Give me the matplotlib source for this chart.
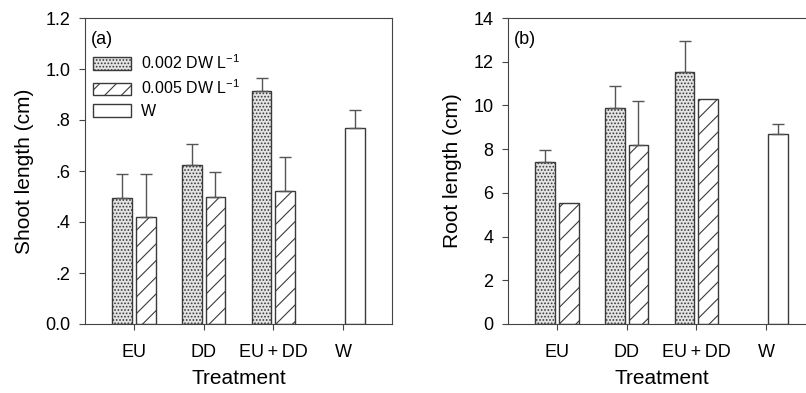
import numpy as np
import matplotlib.pyplot as plt

plt.rcParams['font.family'] = ['Liberation Sans', 'DejaVu Sans']
plt.rcParams['mathtext.default'] = 'regular'
plt.rcParams['hatch.linewidth'] = 0.8

treatments = ['EU', 'DD', 'EU\u2009+\u2009DD', 'W']

# shoot length (cm)
shoot_002 = [0.495, 0.625, 0.915]
shoot_002_err = [0.095, 0.08, 0.05]
shoot_005 = [0.42, 0.50, 0.52]
shoot_005_err = [0.17, 0.095, 0.135]
shoot_w = 0.77
shoot_w_err = 0.068

# root length (cm)
root_002 = [7.42, 9.87, 11.51]
root_002_err = [0.54, 1.03, 1.44]
root_005 = [5.55, 8.2, 10.29]
root_005_err = [0.0, 2.01, 0.0]
root_w = 8.68
root_w_err = 0.48

edge = '#3a3a3a'
W_PX, H_PX = 806, 393


def panel(ax, v2, e2, v5, e5, vw, ew, ylim, yticks, yticklabels, ylabel, tag):
    x = np.arange(1, 4)
    off = 0.17
    w = 0.285
    b1 = ax.bar(x - off, v2, w, facecolor='#e4e4e4', edgecolor=edge,
                hatch='.....', lw=1.0, label='0.002 DW L$^{-1}$')
    b2 = ax.bar(x + off, v5, w, facecolor='white', edgecolor=edge,
                hatch='//', lw=1.0, label='0.005 DW L$^{-1}$')
    b3 = ax.bar([4 + off], [vw], w, facecolor='white', edgecolor=edge,
                lw=1.0, label='W')
    for xs, vals, errs in [(x - off, v2, e2), (x + off, v5, e5),
                           ([4 + off], [vw], [ew])]:
        for xi, vi, ei in zip(xs, vals, errs):
            if ei > 0:
                ax.errorbar(xi, vi, yerr=[[0], [ei]], fmt='none',
                            ecolor='#555555', elinewidth=1.0, capsize=4,
                            capthick=1.0)
    ax.set_xlim(0.3, 4.7)
    ax.set_ylim(*ylim)
    ax.set_yticks(yticks)
    ax.set_yticklabels(yticklabels)
    ax.set_xticks([1, 2, 3, 4])
    ax.set_xticklabels(treatments)
    ax.tick_params(axis='both', labelsize=13, length=4.5, color='#444444',
                   width=0.8)
    ax.tick_params(axis='x', pad=10)
    ax.tick_params(axis='y', pad=6)
    for s in ax.spines.values():
        s.set_color('#444444')
        s.set_linewidth(0.8)
    ax.set_xlabel('Treatment', fontsize=15, labelpad=6)
    ax.set_ylabel(ylabel, fontsize=15, labelpad=8)
    ax.text(0.018, 0.93, tag, transform=ax.transAxes, fontsize=13,
            va='center', ha='left')
    return b1, b2, b3


fig = plt.figure(figsize=(W_PX / 100, H_PX / 100), dpi=100)
ax1 = fig.add_axes([85 / W_PX, 1 - 324 / H_PX, 307 / W_PX, 306 / H_PX])
ax2 = fig.add_axes([508 / W_PX, 1 - 324 / H_PX, 307 / W_PX, 306 / H_PX])

handles = panel(ax1, shoot_002, shoot_002_err, shoot_005, shoot_005_err,
                shoot_w, shoot_w_err, (0, 1.2),
                [0, 0.2, 0.4, 0.6, 0.8, 1.0, 1.2],
                ['0.0', '.2', '.4', '.6', '.8', '1.0', '1.2'],
                'Shoot length (cm)', '(a)')
panel(ax2, root_002, root_002_err, root_005, root_005_err,
      root_w, root_w_err, (0, 14), np.arange(0, 15, 2),
      [str(v) for v in range(0, 15, 2)], 'Root length (cm)', '(b)')

ax1.legend(handles=handles, loc='upper left', bbox_to_anchor=(0.015, 0.895),
           frameon=False, fontsize=11.5, handlelength=2.4, handleheight=0.8,
           labelspacing=0.42, handletextpad=0.6, borderaxespad=0,
           borderpad=0.2)

fig.savefig('out.png', dpi=100)
